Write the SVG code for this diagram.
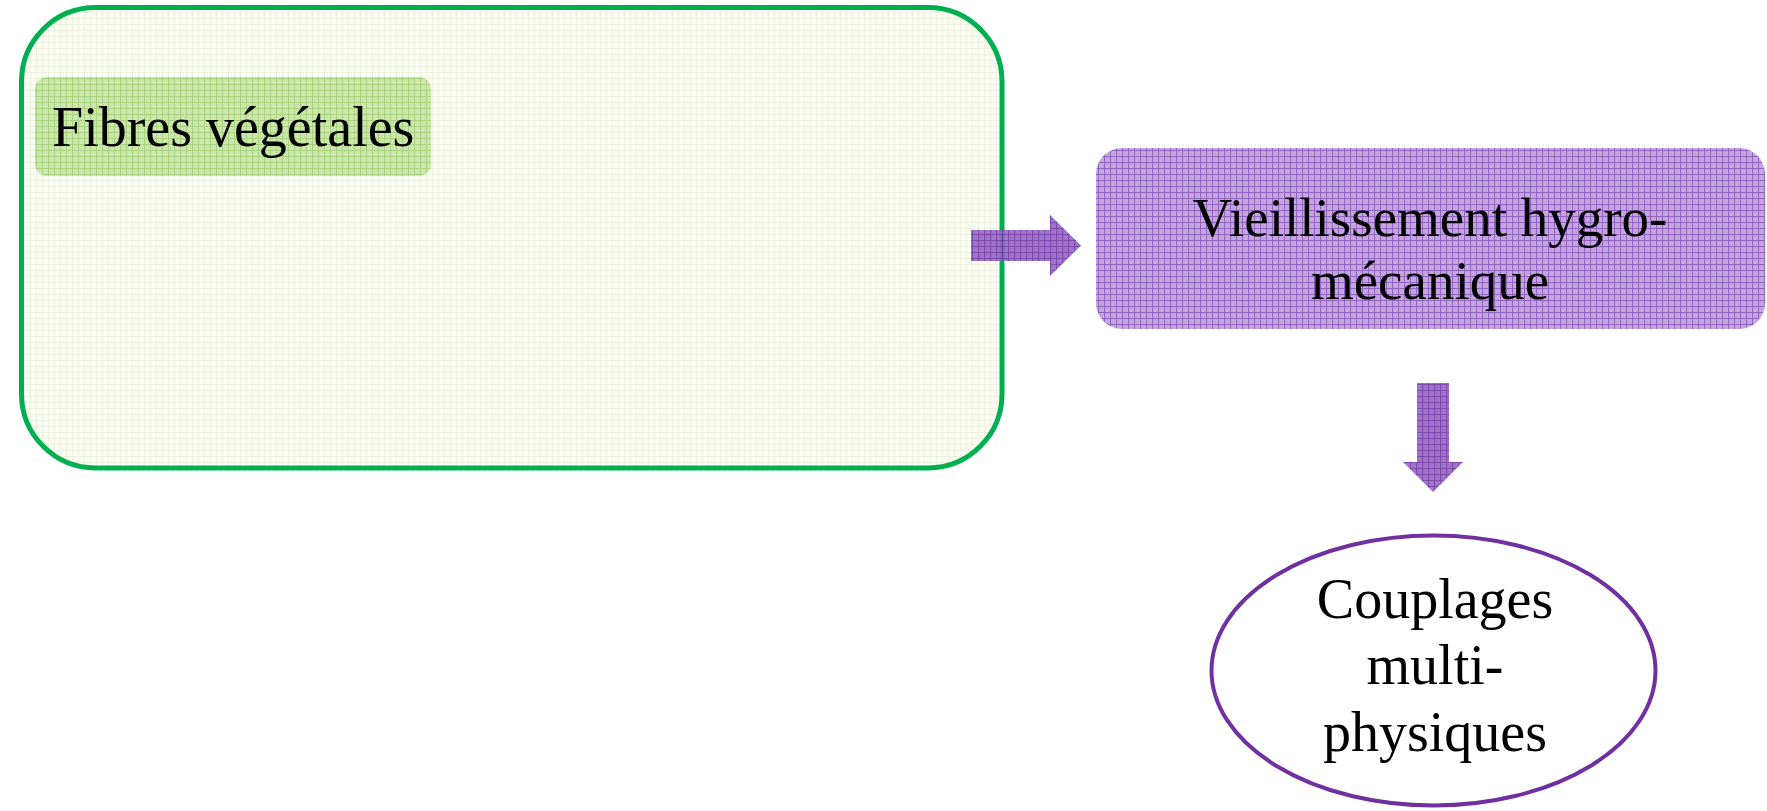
<svg xmlns="http://www.w3.org/2000/svg" width="1767" height="811" viewBox="0 0 1767 811">
<style>
.t{font-family:"Liberation Serif","Times New Roman",serif;fill:#000;}
</style>
<defs>
<pattern id="pGreenLight" width="6" height="6" patternUnits="userSpaceOnUse">
<rect width="6" height="6" fill="#fbfcf6"/>
<path d="M0 0.5H6M0.5 0V6" stroke="#edf1e0" stroke-width="1"/>
</pattern>
<pattern id="pGreen" width="6" height="6" patternUnits="userSpaceOnUse">
<rect width="6" height="6" fill="#cde6b0"/>
<path d="M0 0.5H6M0.5 0V6" stroke="#a9d37f" stroke-width="1"/>
</pattern>
<pattern id="pPurple" width="6" height="6" patternUnits="userSpaceOnUse">
<rect width="6" height="6" fill="#c2a6dc"/>
<path d="M0 0.5H6M0.5 0V6" stroke="#9263c0" stroke-width="1"/>
</pattern>
<pattern id="pArrow" width="6" height="6" patternUnits="userSpaceOnUse">
<rect width="6" height="6" fill="#9466c2"/>
<path d="M0 0.5H6M0.5 0V6" stroke="#7036a6" stroke-width="1.2"/>
</pattern>
</defs>

<g id="node-fibres">
<rect x="21.5" y="7.5" width="980.5" height="460.5" rx="74" ry="74" fill="url(#pGreenLight)" stroke="#00b050" stroke-width="5"/>
<rect x="35" y="77" width="396" height="99" rx="12" ry="12" fill="url(#pGreen)"/>
<text class="t" x="52" y="146" font-size="56">Fibres végétales</text>
</g>

<g id="node-vieillissement">
<rect x="1096" y="148" width="669" height="181" rx="26" ry="26" fill="url(#pPurple)"/>
<text class="t" x="1430" y="236" font-size="55" text-anchor="middle">Vieillissement hygro-</text>
<text class="t" x="1430" y="299" font-size="55" text-anchor="middle">mécanique</text>
</g>

<g id="node-couplages">
<ellipse cx="1433.5" cy="670.5" rx="222" ry="135" fill="#ffffff" stroke="#7030a0" stroke-width="4"/>
<text class="t" x="1435" y="618" font-size="56" text-anchor="middle">Couplages</text>
<text class="t" x="1435" y="684" font-size="56" text-anchor="middle">multi-</text>
<text class="t" x="1435" y="751" font-size="56" text-anchor="middle">physiques</text>
</g>

<g id="connectors">
<polygon points="971,230 1050,230 1050,215 1081,245.5 1050,276 1050,261 971,261" fill="url(#pArrow)" opacity="0.9"/>
<polygon points="1417,383 1449,383 1449,462 1463,462 1433,492 1403,462 1417,462" fill="url(#pArrow)" opacity="0.9"/>
</g>
</svg>
